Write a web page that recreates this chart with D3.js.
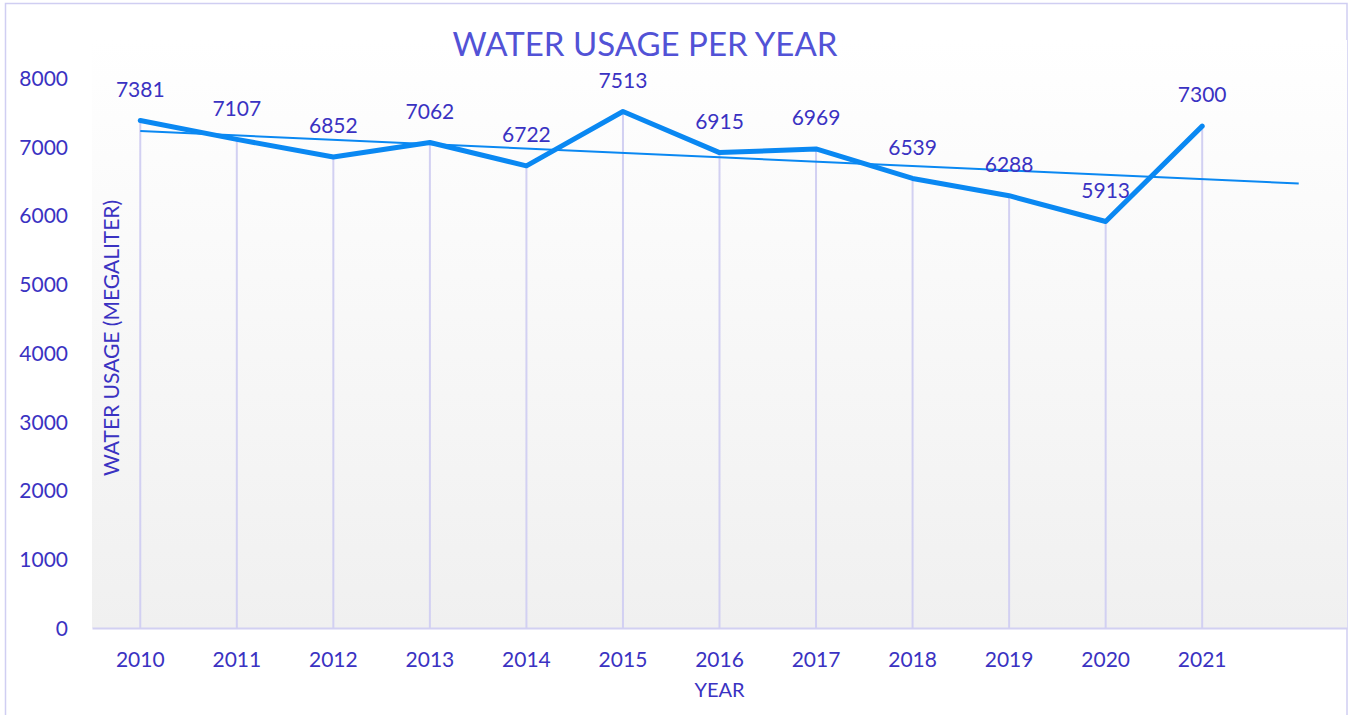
<!DOCTYPE html>
<html>
<head>
<meta charset="utf-8">
<script src="https://cdn.jsdelivr.net/npm/d3@7"></script>
<style>
  html, body { margin: 0; padding: 0; background: #fff; }
  svg text { font-family: Lato, "Open Sans", sans-serif; }
</style>
</head>
<body>
<svg id="chart" width="1350" height="715"></svg>
<script>
const years = ["2010","2011","2012","2013","2014","2015","2016","2017","2018","2019","2020","2021"];
const usage = [7381, 7107, 6852, 7062, 6722, 7513, 6915, 6969, 6539, 6288, 5913, 7300];
// linear trendline: value at first year and at one period forward
const trendCats = ["2010", "2022"];
const trendVals = [7228, 6465];
const yTicks = [0, 1000, 2000, 3000, 4000, 5000, 6000, 7000, 8000];
const titleText = "WATER USAGE PER YEAR";
const xTitle = "YEAR";
const yTitle = "WATER USAGE (MEGALITER)";

const textColor = "#3a32c2";
const titleColor = "#5252d6";
const lineColor = "#0a88f2";
const gridColor = "#d2d0f2";

const svg = d3.select("#chart");
const plot = { left: 92, right: 1347, top: 78, bottom: 628 };

// chart border
svg.append("rect").attr("x", 5.5).attr("y", 3.5).attr("width", 1341.5).attr("height", 730)
  .attr("fill", "#fff").attr("stroke", "#d0cef2").attr("stroke-width", 1.5);

// gradient
const defs = svg.append("defs");
const grad = defs.append("linearGradient").attr("id", "bg").attr("x1", 0).attr("y1", 0).attr("x2", 0).attr("y2", 1);
grad.append("stop").attr("offset", "0%").attr("stop-color", "#ffffff");
grad.append("stop").attr("offset", "100%").attr("stop-color", "#f0f0f0");

const x = d3.scaleBand().domain(years.concat(["2022"])).range([plot.left, plot.right]).padding(0);
const xc = d => x(d) + x.bandwidth() / 2;
const y = d3.scaleLinear().domain([0, 8000]).range([plot.bottom, plot.top]);

svg.append("rect").attr("x", plot.left).attr("y", 40).attr("width", plot.right - plot.left)
  .attr("height", plot.bottom - 40).attr("fill", "url(#bg)");

// drop lines
svg.append("g").selectAll("line").data(years).join("line")
  .attr("x1", d => xc(d)).attr("x2", d => xc(d))
  .attr("y1", plot.bottom).attr("y2", (d, i) => y(usage[i]))
  .attr("stroke", gridColor).attr("stroke-width", 2);

// x axis
const xAxis = svg.append("g").attr("transform", `translate(0,${plot.bottom})`)
  .call(d3.axisBottom(x).tickSizeOuter(0).tickSize(0).tickFormat(d => years.includes(d) ? d : ""));
xAxis.select(".domain").attr("stroke", gridColor).attr("stroke-width", 2);
xAxis.selectAll(".tick text").attr("fill", textColor).attr("font-size", 21).attr("dy", 0).attr("y", 39);

// y axis
const yAxis = svg.append("g").attr("transform", `translate(${plot.left},0)`)
  .call(d3.axisLeft(y).tickValues(yTicks).tickSize(0).tickFormat(d3.format("d")));
yAxis.select(".domain").remove();
yAxis.selectAll(".tick text").attr("fill", textColor).attr("font-size", 21)
  .attr("x", -24).attr("dy", "0.35em");

// trendline
svg.append("line")
  .attr("x1", xc(trendCats[0])).attr("y1", y(trendVals[0]))
  .attr("x2", xc(trendCats[1])).attr("y2", y(trendVals[1]))
  .attr("stroke", lineColor).attr("stroke-width", 2);

// data line
svg.append("path").datum(usage)
  .attr("d", d3.line().x((d, i) => xc(years[i])).y(d => y(d)))
  .attr("fill", "none").attr("stroke", lineColor).attr("stroke-width", 5)
  .attr("stroke-linejoin", "round").attr("stroke-linecap", "round");

// data labels
svg.append("g").selectAll("text").data(usage).join("text")
  .attr("x", (d, i) => xc(years[i])).attr("y", d => y(d) - 31)
  .attr("dy", "0.35em").attr("text-anchor", "middle")
  .attr("fill", textColor).attr("font-size", 21).text(d => d);

// titles
svg.append("text").attr("x", 645).attr("y", 56).attr("text-anchor", "middle")
  .attr("fill", titleColor).attr("font-size", 33).text(titleText);
svg.append("text").attr("x", (plot.left + plot.right) / 2).attr("y", 697).attr("text-anchor", "middle")
  .attr("fill", textColor).attr("font-size", 20).text(xTitle);
svg.append("text").attr("transform", "translate(119,338) rotate(-90)").attr("text-anchor", "middle")
  .attr("fill", textColor).attr("font-size", 21).text(yTitle);
</script>
</body>
</html>
